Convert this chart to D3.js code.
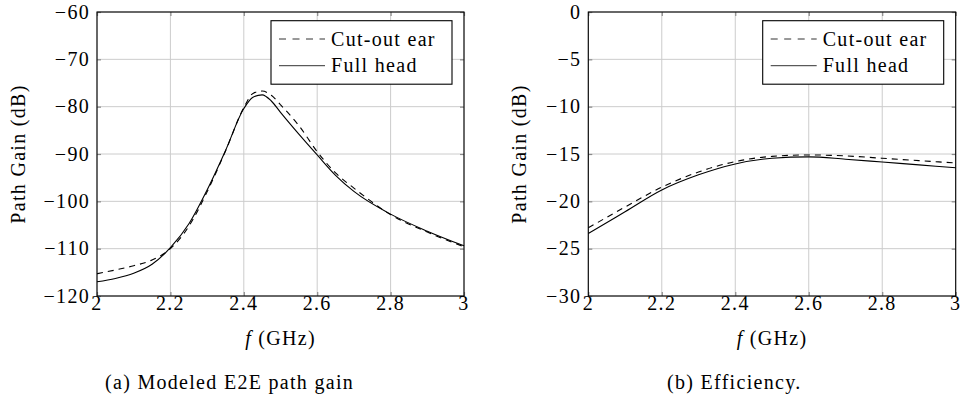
<!DOCTYPE html>
<html>
<head>
<meta charset="utf-8">
<script src="https://cdn.jsdelivr.net/npm/d3@7"></script>
<style>
  html, body { margin: 0; padding: 0; background: #fff; }
  svg { display: block; }
  svg text { font-family: "Liberation Serif", "Times New Roman", serif; fill: #000; letter-spacing: 1.3px; }
</style>
</head>
<body>
<svg id="chart" width="963" height="396"></svg>
<script>
// ---------- data ----------
const xTicks = [2, 2.2, 2.4, 2.6, 2.8, 3];

// (a) Modeled E2E path gain
const freqA = [2.0, 2.05, 2.1, 2.15, 2.2, 2.25, 2.3, 2.35, 2.4, 2.425, 2.45, 2.475, 2.5, 2.55, 2.6, 2.65, 2.7, 2.8, 2.9, 3.0];
const cutA  = [-115.3, -114.5, -113.6, -112.4, -110.0, -105.3, -98.0, -89.4, -80.2, -77.2, -76.7, -77.6, -79.6, -84.0, -89.5, -94.0, -97.2, -102.8, -106.5, -109.6];
const fullA = [-117.0, -116.3, -115.2, -113.3, -109.8, -104.8, -97.6, -89.3, -80.4, -78.0, -77.5, -78.8, -81.2, -85.8, -90.2, -94.5, -97.9, -102.7, -106.3, -109.4];
const yTicksA = [-60, -70, -80, -90, -100, -110, -120];

// (b) Efficiency
const freqB = [2.0, 2.1, 2.2, 2.3, 2.4, 2.5, 2.6, 2.7, 2.8, 2.9, 3.0];
const cutB  = [-22.8, -20.6, -18.5, -16.9, -15.8, -15.25, -15.1, -15.2, -15.45, -15.7, -15.95];
const fullB = [-23.4, -21.1, -18.8, -17.2, -16.05, -15.45, -15.3, -15.55, -15.85, -16.15, -16.45];
const yTicksB = [0, -5, -10, -15, -20, -25, -30];

const seriesNames = ["Cut-out ear", "Full head"];
const captions = ["(a) Modeled E2E path gain", "(b) Efficiency."];
const yLabel = "Path Gain (dB)";

// ---------- drawing ----------
const svg = d3.select("#chart");
const FS = 20;

function panel(cfg) {
  const {left, right, top, bottom, freq, cut, full, yTicks, caption, ylabelX, captionX} = cfg;
  const x = d3.scaleLinear().domain([2, 3]).range([left, right]);
  const y = d3.scaleLinear().domain([d3.min(yTicks), d3.max(yTicks)]).range([bottom, top]);
  const g = svg.append("g");

  // grid
  g.append("g").selectAll("line").data(xTicks).join("line")
    .attr("x1", d => x(d)).attr("x2", d => x(d)).attr("y1", top).attr("y2", bottom)
    .attr("stroke", "#cccccc").attr("stroke-width", 1);
  g.append("g").selectAll("line").data(yTicks).join("line")
    .attr("y1", d => y(d)).attr("y2", d => y(d)).attr("x1", left).attr("x2", right)
    .attr("stroke", "#cccccc").attr("stroke-width", 1);

  // inward ticks on all four sides
  const tickStyle = sel => { sel.select(".domain").remove(); sel.selectAll(".tick line").attr("stroke", "#8a8a8a").attr("stroke-width", 1.2); sel.selectAll(".tick text").remove(); };
  g.append("g").attr("transform", `translate(0,${bottom})`).call(d3.axisBottom(x).tickValues(xTicks).tickSize(-4)).call(tickStyle);
  g.append("g").attr("transform", `translate(0,${top})`).call(d3.axisTop(x).tickValues(xTicks).tickSize(-4)).call(tickStyle);
  g.append("g").attr("transform", `translate(${left},0)`).call(d3.axisLeft(y).tickValues(yTicks).tickSize(-4)).call(tickStyle);
  g.append("g").attr("transform", `translate(${right},0)`).call(d3.axisRight(y).tickValues(yTicks).tickSize(-4)).call(tickStyle);

  // tick labels
  const fmt = d3.format("~g");
  g.append("g").selectAll("text").data(xTicks).join("text")
    .attr("x", d => x(d)).attr("y", bottom + 13.5)
    .attr("text-anchor", "middle").attr("font-size", FS).text(d => fmt(d));
  g.append("g").selectAll("text").data(yTicks).join("text")
    .attr("x", left - 7).attr("y", d => y(d) + 6.5)
    .attr("text-anchor", "end").attr("font-size", FS).text(d => fmt(d));

  // lines
  const line = d3.line().x(d => x(d[0])).y(d => y(d[1])).curve(d3.curveMonotoneX);
  g.append("path").datum(freq.map((f, i) => [f, cut[i]]))
    .attr("d", line).attr("fill", "none").attr("stroke", "#000").attr("stroke-width", 1.1)
    .attr("stroke-dasharray", "6,5");
  g.append("path").datum(freq.map((f, i) => [f, full[i]]))
    .attr("d", line).attr("fill", "none").attr("stroke", "#000").attr("stroke-width", 1.1);

  // frame
  g.append("rect").attr("x", left).attr("y", top).attr("width", right - left).attr("height", bottom - top)
    .attr("fill", "none").attr("stroke", "#000").attr("stroke-width", 1.1);

  // legend
  const lw = 181, lh = 63.5;
  const lx = right - 12 - lw, ly = top + 8.7;
  const lg = g.append("g");
  lg.append("rect").attr("x", lx).attr("y", ly).attr("width", lw).attr("height", lh)
    .attr("fill", "#fff").attr("stroke", "#000").attr("stroke-width", 1.1);
  seriesNames.forEach((name, i) => {
    const yy = ly + 18.3 + i * 26.7;
    lg.append("line").attr("x1", lx + 8).attr("x2", lx + 54).attr("y1", yy).attr("y2", yy)
      .attr("stroke", "#333").attr("stroke-width", 1)
      .attr("stroke-dasharray", i === 0 ? "7,6.5" : null);
    lg.append("text").attr("x", lx + 60).attr("y", yy + 6.5).attr("font-size", FS).text(name);
  });

  // axis labels
  const xl = g.append("text").attr("x", (left + right) / 2).attr("y", bottom + 48.5)
    .attr("text-anchor", "middle").attr("font-size", FS);
  xl.append("tspan").attr("font-style", "italic").text("f");
  xl.append("tspan").text(" (GHz)");
  g.append("text").attr("transform", `translate(${ylabelX},${(top + bottom) / 2}) rotate(-90)`)
    .attr("text-anchor", "middle").attr("font-size", FS).text(yLabel);

  // caption
  g.append("text").attr("x", captionX).attr("y", 389).attr("font-size", FS).text(caption);
}

panel({left: 97, right: 464, top: 12, bottom: 296, freq: freqA, cut: cutA, full: fullA,
       yTicks: yTicksA, caption: captions[0], ylabelX: 25, captionX: 105});
panel({left: 588.3, right: 955.7, top: 12, bottom: 296, freq: freqB, cut: cutB, full: fullB,
       yTicks: yTicksB, caption: captions[1], ylabelX: 525.5, captionX: 667});
</script>
</body>
</html>
